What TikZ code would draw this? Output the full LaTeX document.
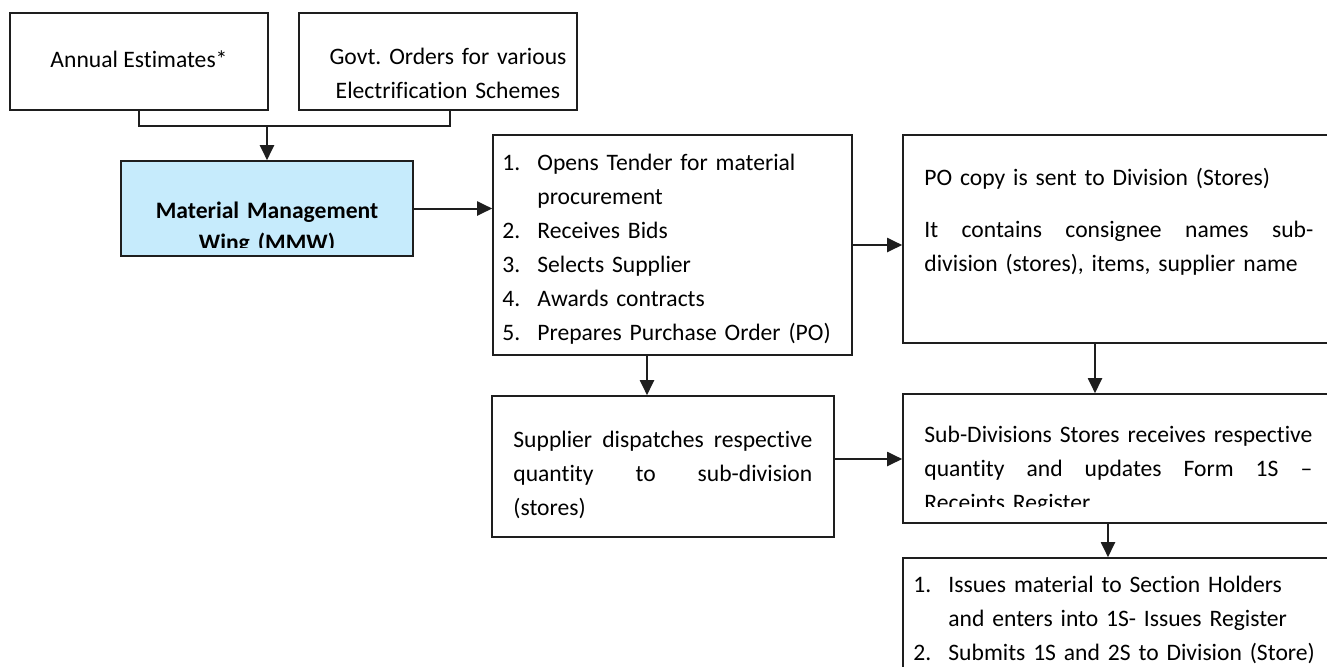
\documentclass[tikz,border=0pt]{standalone}
\usepackage{fontspec}
\setmainfont{Carlito}[Ligatures=NoCommon]
\usetikzlibrary{arrows.meta}
\definecolor{mmwblue}{RGB}{198,235,252}
\definecolor{edge}{RGB}{30,30,30}
\newcommand{\lnum}[1]{\makebox[17.5pt][l]{#1}}
\newcommand{\lind}{\hspace*{17.5pt}}
\frenchspacing

\begin{document}
\begin{tikzpicture}[
    x=0.5pt,
    y=-0.5pt,
    >={Triangle[length=7.5pt,width=7pt]},
    box/.style={draw=edge, line width=0.8pt, inner sep=0pt},
    txt/.style={inner sep=0pt, text=black, font=\fontsize{11.8}{17}\selectfont},
    line/.style={->, line width=1pt, draw=edge},
    link/.style={line width=1pt, draw=edge}
]
\useasboundingbox (0,0) rectangle (1327,666);
\node[box, minimum width=129pt, minimum height=48.5pt] (est) at (139,61.5) {};
\node[box, minimum width=139pt, minimum height=48.5pt] (govt) at (438,61.5) {};
\node[box, fill=mmwblue, minimum width=146pt, minimum height=47.5pt] (mmw) at (267,208.5) {};
\node[box, minimum width=179.5pt, minimum height=110pt] (list) at (672.5,245) {};
\node[box, minimum width=218.5pt, minimum height=104pt] (po) at (1121.5,239) {};
\node[box, minimum width=171pt, minimum height=70.5pt] (supplier) at (663,466.5) {};
\node[box, minimum width=218.5pt, minimum height=64.5pt] (subdiv) at (1121.5,458.5) {};
\node[box, minimum width=218.5pt, minimum height=62pt] (last) at (1121.5,620) {};

\node[txt, anchor=base] (estT) at (139,67) {Annual Estimates*};
\node[txt, anchor=base, text width=135pt, align=center] (govtT) at (448,64) {Govt. Orders for various\\Electrification Schemes};
\begin{scope}
\clip ([yshift=4.5pt]mmw.south west) rectangle (mmw.north east);
\node[txt, anchor=base, text width=140pt, align=center, font=\fontsize{11.8}{16}\selectfont\bfseries] (mmwT) at (267,218) {Material Management\\Wing (MMW)};
\end{scope}
\node[txt, anchor=base west, text width=170pt, align=left] (listT) at (502,170) {\lnum{1.}Opens Tender for material\\\lind procurement\\\lnum{2.}Receives Bids\\\lnum{3.}Selects Supplier\\\lnum{4.}Awards contracts\\\lnum{5.}Prepares Purchase Order (PO)};
\node[txt, anchor=base west, text width=194.5pt, align=left] (poT) at (924,185) {PO copy is sent to Division (Stores)\\[9pt]It\hfill contains\hfill consignee\hfill names\hfill sub-\\division (stores), items, supplier name};
\node[txt, anchor=base west, text width=149.5pt, align=left] (supT) at (513,447) {Supplier\hfill dispatches\hfill respective\\quantity\hfill to\hfill sub-division\\(stores)};
\begin{scope}
\clip ([yshift=8.5pt]subdiv.south west) rectangle (subdiv.north east);
\node[txt, anchor=base west, text width=194pt, align=left] (subT) at (924,442) {Sub-Divisions\hfill Stores\hfill receives\hfill respective\\quantity\hfill and\hfill updates\hfill Form\hfill 1S\hfill –\\Receipts Register};
\end{scope}
\node[txt, anchor=base west, text width=205pt, align=left] (lastT) at (913,592) {\lnum{1.}Issues material to Section Holders\\\lind and enters into 1S- Issues Register\\\lnum{2.}Submits 1S and 2S to Division (Store)};

\coordinate (join) at (267,126);
\coordinate (ldrop) at ([xshift=-12.75pt]list.south);
\coordinate (pdrop) at ([xshift=-13.25pt]po.south);
\coordinate (sout) at ([yshift=3.75pt]supplier.east);
\coordinate (sdrop) at ([xshift=-6.75pt]subdiv.south);

\draw[link] (est.south) |- (join) -| ([xshift=5.75pt]govt.south);
\draw[line] (join) -- (mmw.north);
\draw[line] (mmw.east) -- (mmw.east -| list.west);
\draw[line] (list.east) -- (list.east -| po.west);
\draw[line] (ldrop) -- (ldrop |- supplier.north);
\draw[line] (pdrop) -- (pdrop |- subdiv.north);
\draw[line] (sout) -- (sout -| subdiv.west);
\draw[line] (sdrop) -- (sdrop |- last.north);
\end{tikzpicture}
\end{document}
